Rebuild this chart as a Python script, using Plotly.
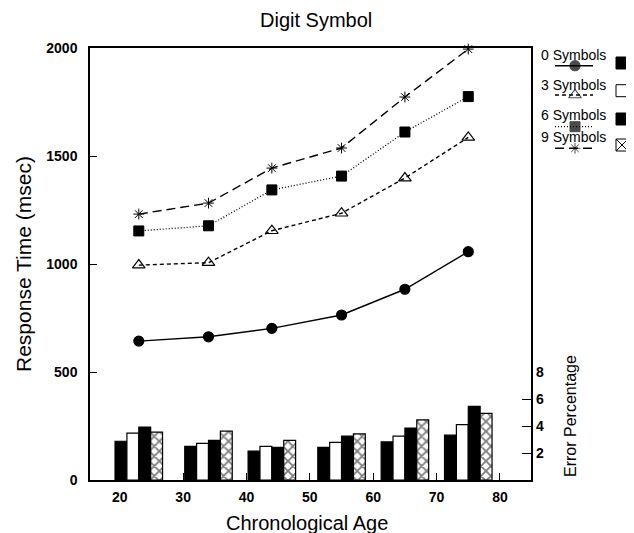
import plotly.graph_objects as go

# ---------------- data ----------------
ages = [23, 34, 44, 55, 65, 75]
series_names = ["0 Symbols", "3 Symbols", "6 Symbols", "9 Symbols"]

rt_0 = [643, 663, 702, 764, 883, 1057]
rt_3 = [995, 1006, 1154, 1235, 1398, 1586]
rt_6 = [1153, 1177, 1343, 1407, 1611, 1775]
rt_9 = [1231, 1282, 1444, 1537, 1773, 1995]

err_0 = [2.87, 2.49, 2.14, 2.42, 2.82, 3.32]
err_3 = [3.47, 2.72, 2.49, 2.79, 3.25, 4.10]
err_6 = [3.92, 2.94, 2.42, 3.25, 3.85, 5.46]
err_9 = [3.55, 3.62, 2.94, 3.42, 4.45, 4.93]

x_ticks = [20, 30, 40, 50, 60, 70, 80]
rt_ticks = [0, 500, 1000, 1500, 2000]
err_ticks = [2, 4, 6, 8]

title_text = "Digit Symbol"
x_title = "Chronological Age"
y_title = "Response Time (msec)"
y2_title = "Error Percentage"

# ---------------- styling ----------------
FONT = "Liberation Sans, Arial, Helvetica, sans-serif"
OFF = 8                     # page body margin of the html
W, H = 634 - OFF, 533 - OFF
L, T = 90 - OFF, 48 - OFF
B = 533 - 480
PW = W - L                  # plot width (right margin 0)
PH = H - T - B              # plot height
X_END = 441 / PW            # main axis right edge

line_styles = [
    dict(dash="solid", symbol="circle", size=10, lw=1.4, mlw=1.2),
    dict(dash="4px,3px", symbol="triangle-up-open", size=11, lw=1.4, mlw=1.2),
    dict(dash="1px,2px", symbol="square", size=10, lw=1.3, mlw=1.0),
    dict(dash="9px,5px", symbol="asterisk-open", size=9, lw=1.4, mlw=1.0),
]
rt_series = [rt_0, rt_3, rt_6, rt_9]
err_series = [err_0, err_3, err_6, err_9]

fig = go.Figure()

# response time lines
for name, vals, st in zip(series_names, rt_series, line_styles):
    fig.add_trace(go.Scatter(
        x=ages, y=vals, name=name, mode="lines+markers",
        line=dict(color="black", width=st["lw"], dash=st["dash"]),
        marker=dict(symbol=st["symbol"], size=st["size"], color="black",
                    line=dict(color="black", width=st["mlw"])),
        xaxis="x", yaxis="y", showlegend=False, cliponaxis=False,
    ))

# error bars
bar_styles = [
    dict(color="black", pattern=None),
    dict(color="white", pattern=None),
    dict(color="black", pattern=None),
    dict(color="white", pattern=dict(shape="x", fgcolor="black", bgcolor="white",
                                     size=7, solidity=0.45, fillmode="overlay")),
]
for name, vals, bs in zip(series_names, err_series, bar_styles):
    marker = dict(color=bs["color"], line=dict(color="black", width=1.2))
    if bs["pattern"]:
        marker["pattern"] = bs["pattern"]
    fig.add_trace(go.Bar(
        x=ages, y=vals, name=name, marker=marker,
        xaxis="x", yaxis="y2", showlegend=False,
    ))

# ---------------- custom legend (on a hidden pixel-like axis) ----------------
leg_text_y = [55, 85, 115, 137]
leg_mark_y = [65.7, 95, 126.7, 148.3]
leg_swatch_y = [63, 90.7, 119, 145]
leg_x0, leg_xm, leg_x1 = 555, 575, 593
swatch_x = 622
swatch_sym = ["square", "square-open", "square", "square-x-open"]

for st, my in zip(line_styles, leg_mark_y):
    fig.add_trace(go.Scatter(
        x=[leg_x0, leg_xm, leg_x1], y=[my, my, my], mode="lines+markers",
        line=dict(color="black", width=st["lw"], dash=st["dash"]),
        marker=dict(symbol=st["symbol"], size=[0, st["size"], 0], color="black",
                    line=dict(color="black", width=st["mlw"])),
        xaxis="x3", yaxis="y3", showlegend=False, hoverinfo="skip", cliponaxis=False,
    ))
for sym, sy in zip(swatch_sym, leg_swatch_y):
    fig.add_trace(go.Scatter(
        x=[swatch_x], y=[sy], mode="markers",
        marker=dict(symbol=sym, size=12, color="black",
                    line=dict(color="black", width=1)),
        xaxis="x3", yaxis="y3", showlegend=False, hoverinfo="skip", cliponaxis=False,
    ))

annotations = []
for name, ty in zip(series_names, leg_text_y):
    annotations.append(dict(text=name, x=573, y=ty, xref="x3", yref="y3",
                            showarrow=False, xanchor="center", yanchor="middle",
                            font=dict(family=FONT, size=14, color="black")))

annotations += [
    dict(text=title_text, x=(316 - 90) / PW, y=(480 - 20) / PH, xref="paper", yref="paper",
         showarrow=False, xanchor="center", yanchor="middle",
         font=dict(family=FONT, size=20, color="black")),
    dict(text=x_title, x=(306.5 - 90) / PW, y=(480 - 523) / PH, xref="paper", yref="paper",
         showarrow=False, xanchor="center", yanchor="middle",
         font=dict(family=FONT, size=20, color="black")),
    dict(text=y_title, x=(23 - 90) / PW, y=0.5, xref="paper", yref="paper",
         showarrow=False, xanchor="center", yanchor="middle", textangle=-90,
         font=dict(family=FONT, size=21, color="black")),
    dict(text=y2_title, x=570, y=416, xref="x3", yref="y3",
         showarrow=False, xanchor="center", yanchor="middle", textangle=-90,
         font=dict(family=FONT, size=16, color="black")),
]

tickfont = dict(family=FONT, size=14, color="black", weight="bold")

fig.update_layout(
    width=W, height=H,
    margin=dict(l=L, r=0, t=T, b=B, autoexpand=False),
    paper_bgcolor="white", plot_bgcolor="rgba(0,0,0,0)",
    barmode="group", bargap=0.25, bargroupgap=0,
    showlegend=False,
    annotations=annotations,
    xaxis=dict(domain=[0, X_END], range=[15.3, 84.9], anchor="y",
               tickvals=x_ticks, ticks="inside", ticklen=7, tickwidth=1.2,
               tickcolor="black", showline=True, linecolor="black", linewidth=1.5,
               mirror=True, showgrid=False, zeroline=False,
               tickfont=tickfont, ticklabelstandoff=3),
    yaxis=dict(domain=[0, 1], range=[0, 2000], anchor="x",
               tickvals=rt_ticks, ticks="inside", ticklen=7, tickwidth=1.2,
               tickcolor="black", showline=True, linecolor="black", linewidth=1.5,
               mirror=True, showgrid=False, zeroline=False,
               tickfont=tickfont, ticklabelstandoff=8),
    yaxis2=dict(domain=[0, 0.25], range=[0, 8], anchor="x", side="right",
                tickvals=err_ticks, ticks="inside", ticklen=9, tickwidth=1.2,
                tickcolor="black", showline=False, showgrid=False, zeroline=False,
                tickfont=tickfont, ticklabelstandoff=4),
    xaxis3=dict(domain=[446 / PW, 1], range=[536, 634], anchor="y3", visible=False,
                fixedrange=True),
    yaxis3=dict(domain=[0, 1], range=[480, 48], anchor="x3", visible=False,
                fixedrange=True),
)

fig.write_html("out.html")
